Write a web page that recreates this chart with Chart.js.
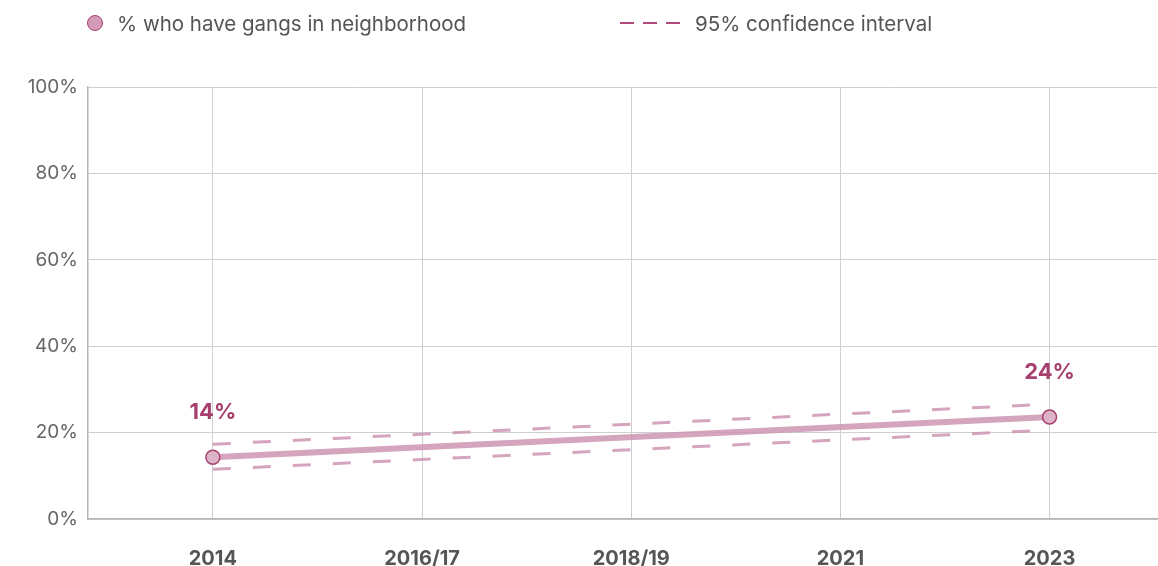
<!DOCTYPE html>
<html>
<head>
<meta charset="utf-8">
<script src="https://cdn.jsdelivr.net/npm/chart.js@4.4.1/dist/chart.umd.min.js"></script>
<style>
  html, body { margin: 0; padding: 0; background: #fff; overflow: hidden; }
  #wrap { position: relative; width: 1158px; height: 566px; overflow: hidden; font-family: Inter, sans-serif; }
  #legend { position: absolute; top: 0; left: 0; width: 1158px; height: 46px; }
  .item { position: absolute; top: 12px; font-size: 20.5px; color: #555; line-height: 23px; white-space: nowrap; }
  .dot { position: absolute; left: 87px; top: 15px; border-radius: 50%;
         background: #d49ab6; border: 1.5px solid #a8406f; box-sizing: border-box; width: 16px; height: 16px; }
  canvas { position: absolute; left: 0; top: 0; }
</style>
</head>
<body>
<div id="wrap">
  <canvas id="chart" width="1166" height="566"></canvas>
  <div id="legend">
    <span class="dot"></span>
    <span class="item" style="left:117px">% who have gangs in neighborhood</span>
    <svg style="position:absolute;left:618px;top:17px" width="66" height="12">
      <line x1="2" y1="6" x2="64" y2="6" stroke="#b04a7a" stroke-width="2" stroke-dasharray="14,9"/>
    </svg>
    <span class="item" style="left:695px">95% confidence interval</span>
  </div>
</div>
<script>
const years = ["2014", "2016/17", "2018/19", "2021", "2023"];
const gangs = [14.3, null, null, null, 23.6];
const ciUpper = [17.3, null, null, null, 26.6];
const ciLower = [11.5, null, null, null, 20.6];
const valueLabels = ["14%", null, null, null, "24%"];
const yTicks = [0, 20, 40, 60, 80, 100];

const toPoints = (arr) => arr.map((v, i) => ({ x: i, y: v }));

const lineColor = "rgba(206, 148, 178, 0.85)";
const darkPink = "#a8406f";

const valueLabelPlugin = {
  id: "valueLabels",
  afterDatasetsDraw(chart) {
    const { ctx, scales } = chart;
    ctx.save();
    ctx.font = "bold 22px Inter, sans-serif";
    ctx.fillStyle = darkPink;
    ctx.textAlign = "center";
    ctx.textBaseline = "middle";
    valueLabels.forEach((lbl, i) => {
      if (!lbl) return;
      const x = scales.x.getPixelForValue(i);
      const y = scales.y.getPixelForValue(gangs[i]) - 45;
      ctx.fillText(lbl, x, y);
    });
    ctx.restore();
  },
};

new Chart(document.getElementById("chart"), {
  type: "line",
  data: {
    datasets: [
      {
        label: "% who have gangs in neighborhood",
        data: toPoints(gangs),
        borderColor: lineColor,
        borderWidth: 6,
        pointRadius: 7,
        pointBackgroundColor: "#dcb3c7",
        pointBorderColor: darkPink,
        pointBorderWidth: 1.5,
        spanGaps: true,
        order: 0,
      },
      {
        label: "upper",
        data: toPoints(ciUpper),
        borderColor: lineColor,
        borderWidth: 3,
        borderDash: [18, 22],
        pointRadius: 0,
        spanGaps: true,
        order: 1,
      },
      {
        label: "lower",
        data: toPoints(ciLower),
        borderColor: lineColor,
        borderWidth: 3,
        borderDash: [18, 22],
        pointRadius: 0,
        spanGaps: true,
        order: 1,
      },
    ],
  },
  options: {
    responsive: false,
    animation: false,
    layout: { padding: { top: 87, left: 0, right: 0, bottom: 0 } },
    plugins: {
      legend: { display: false },
      tooltip: { enabled: false },
    },
    scales: {
      x: {
        type: "linear",
        min: -0.597,
        max: 4.516,
        afterFit: (s) => { s.height = 47; },
        afterBuildTicks: (s) => { s.ticks = years.map((_, i) => ({ value: i })); },
        grid: { color: "#cfcfcf", drawTicks: false },
        border: { color: "#b5b5b5", width: 1.5 },
        ticks: {
          padding: 28,
          color: "#555",
          font: { family: "Inter", size: 20, weight: "bold" },
          callback: (v) => years[v],
        },
      },
      y: {
        min: 0,
        max: 100,
        afterFit: (s) => { s.width = 88; },
        afterBuildTicks: (s) => { s.ticks = yTicks.map((v) => ({ value: v })); },
        grid: { color: "#cfcfcf", drawTicks: false },
        border: { color: "#b5b5b5", width: 1.5 },
        ticks: {
          padding: 10,
          color: "#666",
          font: { family: "Inter", size: 19 },
          callback: (v) => v + "%",
        },
      },
    },
  },
  plugins: [valueLabelPlugin],
});
</script>
</body>
</html>
